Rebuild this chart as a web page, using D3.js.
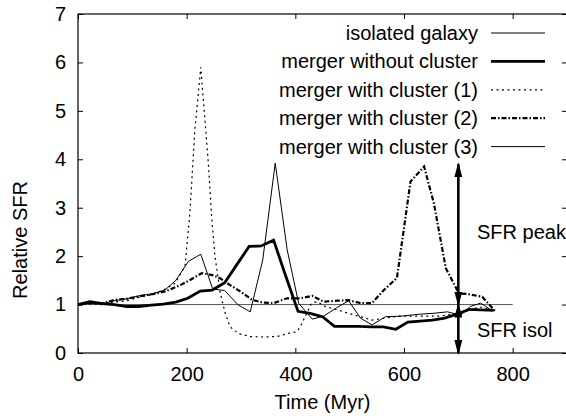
<!DOCTYPE html>
<html>
<head>
<script src="https://d3js.org/d3.v7.min.js"></script>
<style>
  html, body { margin: 0; padding: 0; background: #fff; }
  svg { display: block; }
  text { font-family: "Liberation Sans", Arial, sans-serif; fill: #000; }
</style>
</head>
<body>
<script>
// time grid (Myr) and relative SFR
var isolT = [0, 800];
var isolV = [1, 1];

var noClusterT = [0, 22, 45, 67, 90, 112, 135, 157, 180, 202, 225, 247, 270, 292, 315, 337, 360, 382, 405, 427, 450, 472, 495, 517, 540, 562, 585, 607, 630, 652, 675, 697, 720, 742, 765];
var noClusterV = [1.0, 1.06, 1.02, 1.0, 0.96, 0.96, 0.99, 1.01, 1.05, 1.13, 1.28, 1.30, 1.45, 1.82, 2.20, 2.21, 2.33, 1.6, 0.86, 0.82, 0.75, 0.55, 0.55, 0.55, 0.54, 0.54, 0.49, 0.64, 0.66, 0.68, 0.72, 0.8, 0.9, 0.89, 0.88];

var cl1T = [0, 22, 45, 67, 90, 112, 135, 157, 179, 197, 206, 215, 226, 240, 246, 252, 262, 271, 280, 295, 317, 341, 366, 385, 403, 409, 421, 430, 440, 455, 477, 498, 520, 541, 565, 590, 615, 640, 665, 690, 715, 740, 765];
var cl1V = [1.0, 1.02, 1.0, 1.05, 1.08, 1.15, 1.2, 1.3, 1.44, 1.8, 2.9, 4.6, 5.9, 3.9, 2.8, 2.0, 1.23, 0.82, 0.54, 0.4, 0.34, 0.33, 0.34, 0.4, 0.44, 0.54, 0.82, 1.03, 1.06, 0.96, 0.89, 0.82, 0.75, 0.68, 0.72, 0.76, 0.76, 0.76, 0.76, 0.8, 0.88, 0.95, 0.88];

var cl2T = [0, 22, 45, 68, 90, 117, 140, 160, 188, 205, 228, 250, 262, 280, 299, 320, 340, 360, 385, 409, 431, 452, 477, 498, 520, 541, 563, 587, 612, 637, 655, 677, 701, 716, 744, 769];
var cl2V = [1.0, 1.03, 1.02, 1.1, 1.12, 1.18, 1.22, 1.27, 1.4, 1.5, 1.65, 1.6, 1.54, 1.4, 1.27, 1.1, 1.04, 1.03, 1.13, 1.13, 1.18, 1.06, 1.08, 1.09, 1.03, 1.03, 1.3, 1.55, 3.54, 3.85, 3.09, 1.75, 1.23, 1.22, 1.16, 0.85];

var cl3T = [0, 22, 45, 68, 90, 112, 135, 160, 180, 203, 226, 248, 270, 295, 317, 340, 363, 385, 406, 431, 452, 474, 498, 520, 541, 566, 594, 627, 655, 680, 704, 722, 741, 760];
var cl3V = [1.0, 1.03, 1.02, 1.08, 1.12, 1.18, 1.22, 1.3, 1.5, 1.89, 2.04, 1.32, 1.29, 0.99, 0.85, 1.92, 3.92, 2.13, 1.03, 0.7, 0.76, 0.92, 1.08, 0.72, 0.58, 0.75, 0.76, 0.8, 0.82, 0.85, 0.78, 0.96, 1.03, 0.89];

var legendLabels = ["isolated galaxy", "merger without cluster", "merger with cluster (1)", "merger with cluster (2)", "merger with cluster (3)"];
var xTicks = [0, 200, 400, 600, 800];
var yTicks = [0, 1, 2, 3, 4, 5, 6, 7];

// annotation: SFR peak of cluster (2) vs isolated level, at t = 700
var arrowT = 700;
var peakV = 3.9, isolLevel = 1;

var W = 566, H = 416;
var FS = "20px";
var svg = d3.select("body").append("svg").attr("width", W).attr("height", H);

var x = d3.scaleLinear().domain([0, 900]).range([78, 567]);
var y = d3.scaleLinear().domain([0, 7]).range([353, 14]);

var styles = [
  {w: 1, dash: null, color: "#555"},
  {w: 2.8, dash: null, color: "#000"},
  {w: 1.2, dash: "2,3.5", color: "#000"},
  {w: 2.2, dash: "5,2,1.5,2", color: "#000"},
  {w: 1, dash: null, color: "#000"}
];
var series = [
  {t: isolT, v: isolV},
  {t: noClusterT, v: noClusterV},
  {t: cl1T, v: cl1V},
  {t: cl2T, v: cl2V},
  {t: cl3T, v: cl3V}
];

// frame
svg.append("rect")
  .attr("x", x(0)).attr("y", y(7))
  .attr("width", x(900) - x(0)).attr("height", y(0) - y(7))
  .attr("fill", "none").attr("stroke", "#000").attr("stroke-width", 1.2);

// axes, gnuplot-like inward ticks
svg.append("g").attr("transform", "translate(0," + y(0) + ")")
  .call(d3.axisBottom(x).tickValues(xTicks).tickFormat(d3.format("d")).tickSizeInner(-5).tickSizeOuter(0).tickPadding(14));
svg.append("g").attr("transform", "translate(" + x(0) + ",0)")
  .call(d3.axisLeft(y).tickValues(yTicks).tickFormat(d3.format("d")).tickSizeInner(-5).tickSizeOuter(0).tickPadding(12));
svg.append("g").attr("transform", "translate(0," + y(7) + ")")
  .call(d3.axisTop(x).tickValues(xTicks).tickSizeInner(-5).tickSizeOuter(0).tickFormat(""));
svg.append("g").attr("transform", "translate(" + x(900) + ",0)")
  .call(d3.axisRight(y).tickValues(yTicks).tickSizeInner(-5).tickSizeOuter(0).tickFormat(""));
svg.selectAll(".domain").remove();
svg.selectAll(".tick line").attr("stroke", "#000");
svg.selectAll(".tick text").style("font-size", FS).style("font-family", "Liberation Sans, Arial, sans-serif");

// lines
var line = d3.line().x(function(d) { return x(d[0]); }).y(function(d) { return y(d[1]); });
series.forEach(function(s, i) {
  var pts = s.t.map(function(t, j) { return [t, s.v[j]]; });
  svg.append("path")
    .attr("d", line(pts))
    .attr("fill", "none")
    .attr("stroke", styles[i].color)
    .attr("stroke-width", styles[i].w)
    .attr("stroke-dasharray", styles[i].dash)
    .attr("stroke-linejoin", "miter");
});

// legend
var leg = svg.append("g");
legendLabels.forEach(function(lab, i) {
  var cy = 33 + i * 28.4;
  leg.append("text").attr("x", 478).attr("y", cy + 7)
    .attr("text-anchor", "end").style("font-size", FS).text(lab);
  leg.append("line").attr("x1", 491).attr("x2", 545).attr("y1", cy).attr("y2", cy)
    .attr("stroke", "#000")
    .attr("stroke-width", styles[i].w)
    .attr("stroke-dasharray", styles[i].dash);
});

// double arrows
var defs = svg.append("defs");
defs.append("marker").attr("id", "head").attr("viewBox", "0 0 15 8")
  .attr("markerUnits", "userSpaceOnUse")
  .attr("refX", 13).attr("refY", 4).attr("markerWidth", 15).attr("markerHeight", 8)
  .attr("orient", "auto-start-reverse")
  .append("path").attr("d", "M0,0 L15,4 L0,8 z").attr("fill", "#000");

function arrow(v1, v2) {
  svg.append("line")
    .attr("x1", x(arrowT)).attr("x2", x(arrowT))
    .attr("y1", y(v1)).attr("y2", y(v2))
    .attr("stroke", "#000").attr("stroke-width", 2.6)
    .attr("marker-start", "url(#head)").attr("marker-end", "url(#head)");
}
arrow(peakV, isolLevel);
arrow(isolLevel, 0);

svg.append("text").attr("x", 477).attr("y", 239).style("font-size", FS).text("SFR peak");
svg.append("text").attr("x", 477).attr("y", 337).style("font-size", FS).text("SFR isol");

// axis titles
svg.append("text").attr("x", (x(0) + x(900)) / 2).attr("y", 409)
  .attr("text-anchor", "middle").style("font-size", FS).text("Time (Myr)");
svg.append("text").attr("transform", "translate(27,240) rotate(-90)")
  .attr("text-anchor", "middle").style("font-size", FS).text("Relative SFR");
</script>
</body>
</html>
